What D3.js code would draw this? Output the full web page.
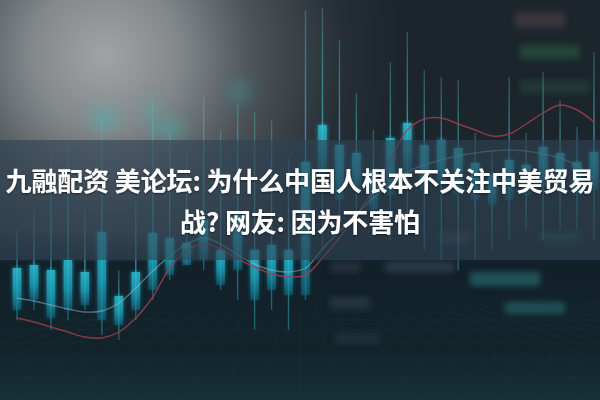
<!DOCTYPE html>
<html><head><meta charset="utf-8">
<script src="https://cdn.jsdelivr.net/npm/d3@7"></script>
<style>html,body{margin:0;padding:0;background:#1b2630;}svg{display:block}</style>
</head><body>
<svg id="c" width="600" height="400"></svg>
<script>
// ---- data (price units) ----
const candleIdx = d3.range(35);
const highs  = [42.5,47.5,61.25,65,47.5,70,32.5,50,75,67.5,62.5,76.25,67.5,73.75,72,70,60.5,97.5,98,90,76.75,67.5,84.5,92,82.5,80.75,80,66.75,62.5,80.75,66.75,82,75,68.25,87];
const lows   = [20,22.5,17.5,20,22.5,16.25,15,20,25,30,33.75,32.5,27.5,25,17.5,22.5,17.5,25,37.5,42.5,45,42.5,40,42.5,37.5,35,32.5,35,37.5,40,42.5,40,42.5,42.5,40];
const opens  = [22.5,25,20.5,22.5,23.75,20,18.75,22.5,27.5,31.25,33.75,35,28.75,32.5,25,27.5,26.25,26.25,56.25,50,52.5,47.5,51.25,56.25,52.5,53.75,51.25,50,48.75,50,51.25,53.75,53.75,51.25,52.5];
const closes = [33,33.75,32.5,35,32,42,26,32,41.75,40.5,39.25,45,37.5,46.25,37.5,38.75,37.5,59.5,68.75,63.75,61.75,57.5,65.5,69.25,63.75,65,63,59.25,56.25,60,58.75,63.25,61.75,59.5,62];
const maSlow = [20.5,19.5,18.25,17,15.75,15.5,17,20.5,25.75,33,37.25,39,37.75,35.25,33.25,31.5,30.75,31.25,35.5,40.5,46.25,52.5,60,67.5,70.25,70.5,69,67.5,66,66.5,69,71.75,73.75,72.5,69.5];
const maFast = [25.5,24.75,23.75,22.75,22,22.25,24.25,28,32.25,36,39,40.5,39,36.25,34,32.5,32,33,37.75,42.25,46.5,50.5,53.75,57,58.75,60,61,61.75,62.25,62.5,62.25,61.5,60.5,58.5,55.5];
const titleLines = ["九融配资 美论坛: 为什么中国人根本不关注中美贸易", "战? 网友: 因为不害怕"];

const W = 600, H = 400;
const svg = d3.select("#c");
const defs = svg.append("defs");

const rg = defs.append("radialGradient").attr("id","glowBg").attr("gradientUnits","userSpaceOnUse")
  .attr("cx",105).attr("cy",55).attr("r",300);
[[0,"#a0a4a6"],[0.25,"#82878a"],[0.5,"#4b5358"],[0.8,"#252e35"],[1,"#1c252c"]].forEach(s=>rg.append("stop").attr("offset",s[0]).attr("stop-color",s[1]));
const lg = defs.append("linearGradient").attr("id","floor").attr("x1",0).attr("y1",0).attr("x2",0).attr("y2",1);
[[0,"#12202a"],[0.6,"#12232a"],[1,"#163035"]].forEach(s=>lg.append("stop").attr("offset",s[0]).attr("stop-color",s[1]));
const fade = defs.append("linearGradient").attr("id","floorFade").attr("x1",0).attr("y1",0).attr("x2",0).attr("y2",1);
fade.append("stop").attr("offset",0).attr("stop-color","#12202a").attr("stop-opacity",0);
fade.append("stop").attr("offset",1).attr("stop-color","#12202a").attr("stop-opacity",1);
const bodyG = defs.append("linearGradient").attr("id","bodyG").attr("x1",0).attr("y1",0).attr("x2",0).attr("y2",1);
[[0,"#2cc6dc",0.95],[0.55,"#1ea8c2",0.85],[1,"#137a92",0.45]].forEach(s=>bodyG.append("stop").attr("offset",s[0]).attr("stop-color",s[1]).attr("stop-opacity",s[2]));
const wickG = defs.append("linearGradient").attr("id","wickG").attr("x1",0).attr("y1",0).attr("x2",0).attr("y2",1);
[[0,"#4fc3c8",0.3],[0.5,"#45b8c8",0.7],[1,"#2aa8c0",0.45]].forEach(s=>wickG.append("stop").attr("offset",s[0]).attr("stop-color",s[1]).attr("stop-opacity",s[2]));
const glow = defs.append("filter").attr("id","glow").attr("x","-100%").attr("y","-20%").attr("width","300%").attr("height","140%");
glow.append("feGaussianBlur").attr("in","SourceGraphic").attr("stdDeviation",2.2).attr("result","b");
const gm = glow.append("feMerge"); gm.append("feMergeNode").attr("in","b"); gm.append("feMergeNode").attr("in","SourceGraphic");
defs.append("filter").attr("id","blur8").attr("x","-50%").attr("y","-50%").attr("width","200%").attr("height","200%")
  .append("feGaussianBlur").attr("stdDeviation",7);
defs.append("filter").attr("id","blur3").attr("x","-50%").attr("y","-50%").attr("width","200%").attr("height","200%")
  .append("feGaussianBlur").attr("stdDeviation",3);
const ts = defs.append("filter").attr("id","tshadow").attr("x","-5%").attr("y","-30%").attr("width","110%").attr("height","160%");
ts.append("feDropShadow").attr("dx",0).attr("dy",1).attr("stdDeviation",1.2).attr("flood-color","#000").attr("flood-opacity",0.5);

svg.append("rect").attr("width",W).attr("height",H).attr("fill","url(#glowBg)");
svg.append("rect").attr("y",230).attr("width",W).attr("height",40).attr("fill","url(#floorFade)");
svg.append("rect").attr("y",262).attr("width",W).attr("height",H-262).attr("fill","url(#floor)");

const blobs = svg.append("g").attr("filter","url(#blur8)");
[[105,118,14,12,"#3fb6b0",0.45],[170,128,16,10,"#3fb6b0",0.4],[240,92,12,12,"#3aa7a8",0.3],[150,112,10,14,"#3aa7a8",0.25]].forEach(b=>
  blobs.append("ellipse").attr("cx",b[0]).attr("cy",b[1]).attr("rx",b[2]).attr("ry",b[3]).attr("fill",b[4]).attr("opacity",b[5]));
const screen = svg.append("g").attr("filter","url(#blur3)");
[[515,12,50,16,"#7b5f60",0.3],[520,45,60,14,"#2e6a4c",0.45],[520,80,70,14,"#2b5a48",0.35],[470,272,70,14,"#2a8a8a",0.5],[505,302,60,12,"#2a8a88",0.45],
 [385,262,70,10,"#56656e",0.4],[330,262,30,10,"#4d5b63",0.3],[330,297,40,12,"#4a5960",0.35],[335,333,45,10,"#3f5058",0.3],[440,232,30,12,"#5a6a70",0.3],[540,232,40,10,"#2f7a50",0.4]].forEach(r=>
  screen.append("rect").attr("x",r[0]).attr("y",r[1]).attr("width",r[2]).attr("height",r[3]).attr("fill",r[4]).attr("opacity",r[5]));

const grid = svg.append("g").attr("stroke","#2b4a50").attr("stroke-opacity",0.22).attr("stroke-width",0.8);
d3.range(-12, 30).forEach(k=>grid.append("line").attr("x1",300+k*14).attr("y1",300).attr("x2",300+k*40).attr("y2",400));
d3.range(0,8).forEach(k=>grid.append("line").attr("x1",0).attr("x2",W).attr("y1",320+k*k*1.6+k*8).attr("y2",320+k*k*1.6+k*8));

const x = d3.scalePoint().domain(candleIdx).range([17, 594]);
const y = d3.scaleLinear().domain([0, 100]).range([400, 0]);
const bw = 8.5;

const cg = svg.append("g");
cg.selectAll("rect.wick").data(candleIdx).join("rect").attr("class","wick")
  .attr("x",i=>x(i)-0.7).attr("width",1.4).attr("y",i=>y(highs[i])).attr("height",i=>y(lows[i])-y(highs[i]))
  .attr("fill","url(#wickG)");
cg.selectAll("rect.body").data(candleIdx).join("rect").attr("class","body")
  .attr("x",i=>x(i)-bw/2).attr("width",bw)
  .attr("y",i=>y(Math.max(opens[i],closes[i])))
  .attr("height",i=>Math.abs(y(opens[i])-y(closes[i])))
  .attr("fill","url(#bodyG)").attr("filter","url(#glow)").attr("opacity",0.85);

const line = d3.line().x(i=>x(i)).curve(d3.curveCatmullRom);
svg.append("path").attr("d", line.y(i=>y(maSlow[i]))(candleIdx))
  .attr("fill","none").attr("stroke","#a8404e").attr("stroke-width",1.4).attr("stroke-opacity",0.8);
svg.append("path").attr("d", line.y(i=>y(maFast[i]))(candleIdx))
  .attr("fill","none").attr("stroke","#8fc0c4").attr("stroke-width",1.4).attr("stroke-opacity",0.5);

svg.append("rect").attr("x",0).attr("y",140).attr("width",W).attr("height",120)
  .attr("fill","#2f4254").attr("fill-opacity",0.62);

const tg = svg.append("g").attr("filter","url(#tshadow)");
const baselines = [191, 232];
const targetW = [589, 240];
titleLines.forEach((t,k)=>{
  const tx = tg.append("text").attr("x",W/2).attr("y",baselines[k]).attr("text-anchor","middle")
    .attr("font-family","'Noto Sans CJK SC','Noto Sans',sans-serif").attr("font-weight",700)
    .attr("font-size",26).attr("fill","#ffffff").text(t);
  const w = tx.node().getComputedTextLength();
  const n = [...t].length;
  const ls = Math.max(-1, Math.min(1.5, (targetW[k]-w)/(n-1)));
  tx.attr("letter-spacing", ls.toFixed(2)+"px");
});
</script>
</body></html>
